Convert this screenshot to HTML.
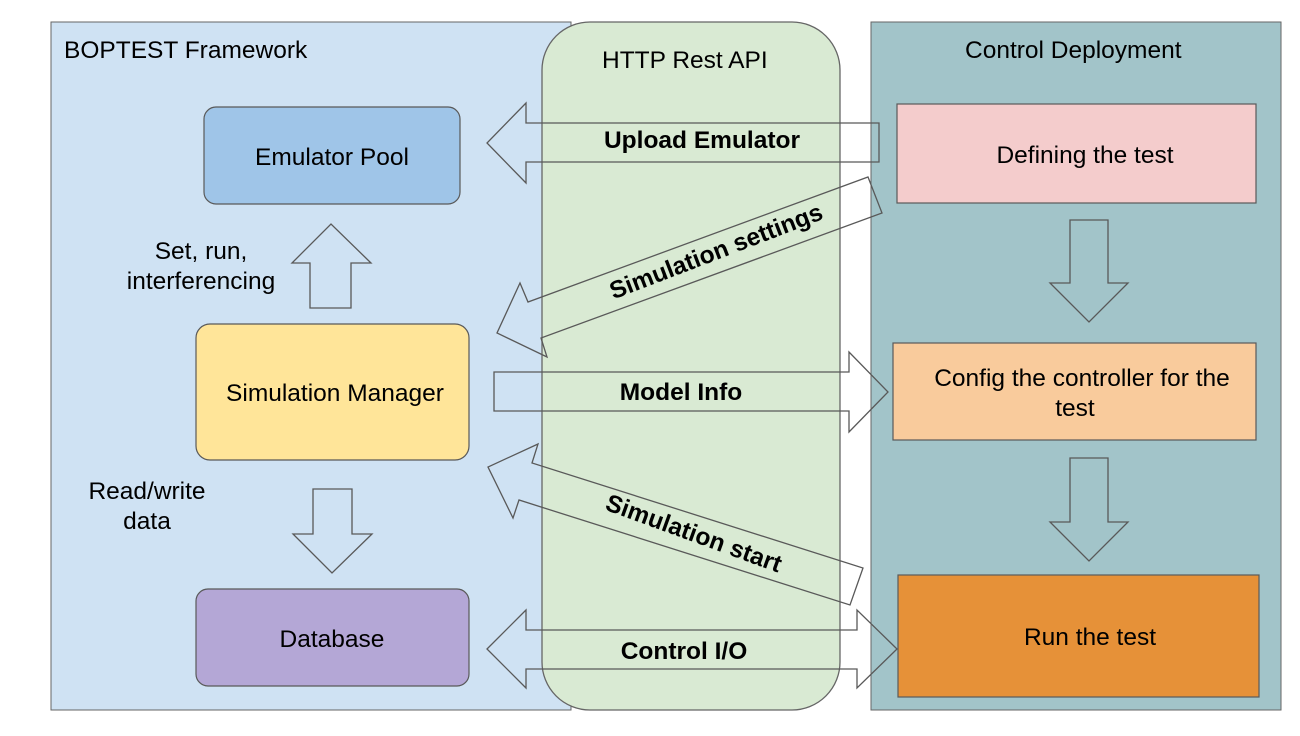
<!DOCTYPE html>
<html><head><meta charset="utf-8"><style>body{margin:0;background:#fff}</style></head><body>
<svg width="1300" height="731" viewBox="0 0 1300 731" xmlns="http://www.w3.org/2000/svg" font-family="Liberation Sans, Arial, sans-serif" font-size="24.5">
<rect width="1300" height="731" fill="#fff"/>
<rect x="51" y="22" width="520" height="688" fill="#cfe2f3" stroke="#666" stroke-width="1"/>
<rect x="542" y="22" width="298" height="688" rx="48" fill="#d9ead3" stroke="#666" stroke-width="1.3"/>
<rect x="871" y="22" width="410" height="688" fill="#a2c4c9" stroke="#666" stroke-width="1"/>
<text x="64" y="58" fill="#000">BOPTEST Framework</text>
<text x="602" y="68" fill="#000">HTTP Rest API</text>
<text x="965" y="58" fill="#000">Control Deployment</text>
<g stroke="#595959" stroke-width="1.2">
<rect x="204" y="107" width="256" height="97" rx="12" fill="#9fc5e8"/>
<rect x="196" y="324" width="273" height="136" rx="14" fill="#ffe599"/>
<rect x="196" y="589" width="273" height="97" rx="12" fill="#b4a7d6"/>
<rect x="897" y="104" width="359" height="99" fill="#f4cccc"/>
<rect x="893" y="343" width="363" height="97" fill="#f9cb9c"/>
<rect x="898" y="575" width="361" height="122" fill="#e69138"/>
</g>
<g text-anchor="middle" fill="#000">
<text x="332" y="165">Emulator Pool</text>
<text x="335" y="401">Simulation Manager</text>
<text x="332" y="647">Database</text>
<text x="1085" y="163">Defining the test</text>
<text x="1082" y="386">Config the controller for the</text>
<text x="1075" y="416">test</text>
<text x="1090" y="645">Run the test</text>
<text x="201" y="259">Set, run,</text>
<text x="201" y="289">interferencing</text>
<text x="147" y="499">Read/write</text>
<text x="147" y="529">data</text>
</g>
<g fill="none" stroke="#595959" stroke-width="1.3">
<polygon points="879,123 526,123 526,103 487,143 526,183 526,162 879,162"/>
<polygon points="868,177 882,213 541,338 547,357 497,333 520,283 528,302"/>
<polygon points="494,372 849,372 849,352 888,392 849,432 849,411 494,411"/>
<polygon points="863,568 850,605 519,500 513,518 488,467 538,444 532,463"/>
<polygon points="487,649 526,610 526,630 857,630 857,610 897,649 857,688 857,669 526,669 526,688"/>
<polygon points="310,308 310,263 292,263 331,224 371,263 351,263 351,308"/>
<polygon points="313,489 352,489 352,534 372,534 332,573 293,534 313,534"/>
<polygon points="1070,220 1108,220 1108,283 1128,283 1089,322 1050,283 1070,283"/>
<polygon points="1070,458 1108,458 1108,522 1128,522 1089,561 1050,522 1070,522"/>
</g>
<g font-weight="bold" fill="#000" text-anchor="middle">
<text x="702" y="148">Upload Emulator</text>
<text x="681" y="400">Model Info</text>
<text x="684" y="659">Control I/O</text>
<text transform="translate(719,259) rotate(-21)">Simulation settings</text>
<text transform="translate(691,541) rotate(20)">Simulation start</text>
</g>
</svg>
</body></html>
